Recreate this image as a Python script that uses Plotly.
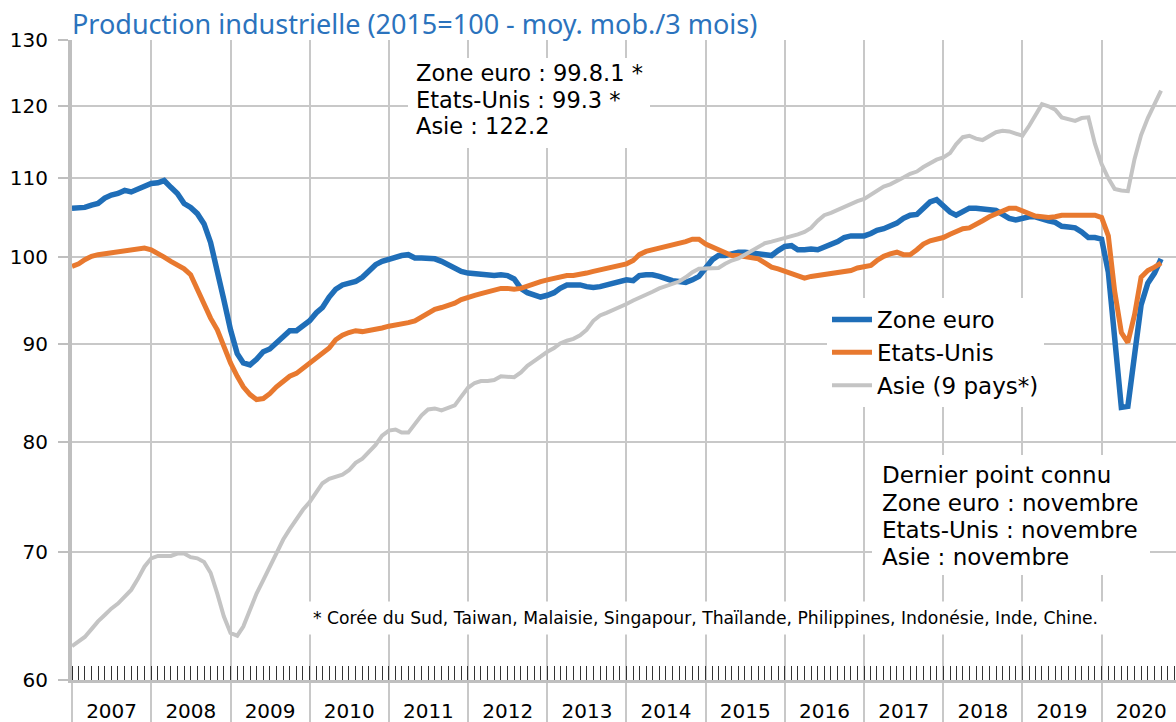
import math
import pandas as pd
import plotly.graph_objects as go

# ---- data (3-month moving average, 2015=100), monthly from Jan 2007 ----
start_month = "2007-01-01"

zone_euro = [
    106.1, 106.2, 106.2, 106.5, 106.7, 107.4, 107.8, 108.0, 108.4, 108.2, 108.6, 108.9,
    109.3, 109.4, 109.7, 108.8, 108.0, 106.7, 106.2, 105.4, 104.1, 101.8, 98.5, 95.0,
    91.6, 89.0, 88.0, 87.8, 88.4, 89.2, 89.5, 90.2, 90.8, 91.5, 91.5, 92.1,
    92.6, 93.5, 94.1, 95.3, 96.2, 96.7, 96.9, 97.1, 97.6, 98.4, 99.1, 99.5,
    99.8, 100.0, 100.2, 100.3, 99.9, 99.9, 99.9, 99.8, 99.5, 99.1, 98.7, 98.3,
    98.1, 98.0, 97.9, 97.8, 97.8, 97.9, 97.8, 97.4, 96.3, 95.8, 95.5, 95.3,
    95.5, 95.8, 96.3, 96.7, 96.7, 96.7, 96.5, 96.4, 96.5, 96.7, 97.0, 97.2,
    97.3, 97.2, 97.8, 97.9, 97.9, 97.7, 97.4, 97.2, 97.1, 97.0, 97.3, 97.7,
    98.7, 99.7, 100.2, 100.2, 100.4, 100.6, 100.6, 100.5, 100.3, 100.2, 100.2, 100.8,
    101.3, 101.4, 100.9, 100.9, 101.0, 100.9, 101.2, 101.5, 101.9, 102.4, 102.6, 102.6,
    102.6, 102.9, 103.3, 103.5, 103.8, 104.2, 104.8, 105.2, 105.3, 106.2, 106.9, 107.2,
    106.4, 105.6, 105.2, 105.6, 106.1, 106.1, 106.0, 105.9, 105.8, 105.3, 104.8, 104.6,
    104.8, 105.0, 105.0, 104.7, 104.5, 104.3, 103.8, 103.7, 103.6, 103.1, 102.4, 102.4,
    102.2, 98.2, 91.3, 83.4, 83.5, 88.4, 94.4, 96.9, 98.1, 99.8,
]

etats_unis = [
    98.9, 99.2, 99.7, 100.1, 100.3, 100.4, 100.5, 100.7, 100.8, 100.9, 101.0, 101.1,
    100.9, 100.5, 100.0, 99.5, 99.0, 98.6, 97.9, 96.1, 94.6, 92.9, 91.6, 89.8,
    88.0, 86.6, 85.5, 84.7, 84.2, 84.3, 84.8, 85.5, 86.1, 86.6, 86.9, 87.4,
    88.0, 88.5, 89.0, 89.6, 90.5, 91.0, 91.3, 91.5, 91.4, 91.5, 91.6, 91.8,
    92.0, 92.1, 92.3, 92.4, 92.6, 93.0, 93.5, 93.9, 94.1, 94.3, 94.6, 95.0,
    95.3, 95.5, 95.7, 95.9, 96.2, 96.3, 96.3, 96.2, 96.3, 96.6, 96.9, 97.1,
    97.3, 97.5, 97.7, 97.8, 97.8, 97.9, 98.1, 98.3, 98.5, 98.7, 98.8, 99.0,
    99.2, 99.6, 100.3, 100.7, 100.9, 101.1, 101.3, 101.4, 101.6, 101.9, 102.2, 102.2,
    101.6, 101.2, 100.9, 100.5, 100.2, 100.2, 100.1, 100.0, 99.8, 99.3, 98.8, 98.6,
    98.3, 98.1, 97.7, 97.5, 97.7, 97.8, 98.0, 98.1, 98.2, 98.2, 98.4, 98.7,
    98.8, 99.0, 99.6, 100.1, 100.4, 100.6, 100.3, 100.3, 100.9, 101.6, 102.0, 102.2,
    102.4, 102.8, 103.2, 103.5, 103.6, 104.0, 104.5, 105.0, 105.4, 105.8, 106.1, 106.1,
    105.7, 105.4, 105.1, 105.0, 104.9, 105.0, 105.2, 105.2, 105.2, 105.3, 105.3, 105.2,
    104.9, 102.6, 96.0, 91.3, 90.2, 93.3, 97.6, 98.4, 98.8, 99.3,
]

asie = [
    62.5, 62.9, 63.2, 63.8, 64.4, 64.9, 65.4, 65.8, 66.4, 66.9, 67.8, 68.8,
    69.5, 69.7, 69.7, 69.7, 69.9, 69.9, 69.6, 69.5, 69.2, 68.3, 66.6, 64.8,
    63.5, 63.3, 64.0, 65.3, 66.6, 67.7, 68.8, 70.0, 71.1, 72.0, 72.9, 73.7,
    74.4, 75.3, 76.1, 76.5, 76.7, 76.9, 77.3, 78.0, 78.4, 79.0, 79.7, 80.6,
    81.1, 81.2, 80.9, 80.9, 81.8, 82.6, 83.2, 83.3, 83.1, 83.3, 83.6, 84.5,
    85.4, 85.9, 86.1, 86.1, 86.2, 86.6, 86.5, 86.5, 87.0, 87.7, 88.2, 88.7,
    89.2, 89.6, 90.1, 90.4, 90.6, 91.0, 91.6, 92.6, 93.2, 93.5, 93.8, 94.2,
    94.5, 94.9, 95.2, 95.5, 95.9, 96.3, 96.6, 96.9, 97.1, 97.6, 98.2, 98.6,
    98.6, 98.6, 98.7, 99.2, 99.6, 99.85, 100.3, 100.7, 101.3, 101.7, 101.9, 102.1,
    102.3, 102.6, 102.8, 103.1, 103.6, 104.5, 105.2, 105.5, 105.9, 106.3, 106.7, 107.0,
    107.3, 107.8, 108.3, 108.9, 109.2, 109.6, 110.1, 110.6, 110.9, 111.5, 112.0, 112.5,
    112.8, 113.4, 114.6, 115.6, 115.8, 115.4, 115.2, 115.7, 116.3, 116.5, 116.4, 116.1,
    115.8, 117.2, 118.7, 120.3, 120.0, 119.5, 118.4, 118.2, 117.9, 118.3, 118.4, 114.7,
    111.9, 110.0, 108.6, 108.4, 108.3, 112.6, 115.9, 118.3, 120.3, 122.3,
]

series_names = ["Zone euro", "Etats-Unis", "Asie (9 pays*)"]
y_ticks = [60, 70, 80, 90, 100, 110, 120, 130]

title_text = "Production industrielle (2015=100 - moy. mob./3 mois)"
last_values_lines = ["Zone euro : 99.8.1 *", "Etats-Unis : 99.3 *", "Asie : 122.2"]
last_point_lines = ["Dernier point connu", "Zone euro : novembre",
                    "Etats-Unis : novembre", "Asie : novembre"]
footnote_text = ("* Corée du Sud, Taiwan, Malaisie, Singapour, Thaïlande, "
                 "Philippines, Indonésie, Inde, Chine.")

dates = pd.date_range(start_month, periods=len(zone_euro), freq="MS")

# ---- layout geometry (pixels) ----
W, H = 1176, 722
ML, MT, MB = 72, 40, 42
PLOT_W, PLOT_H = W - ML, H - MT - MB


def px_x(x):
    return (x - ML) / PLOT_W


def px_y(y):
    return (H - MB - y) / PLOT_H


FONT = "DejaVu Sans"
TITLE_FONT = "Noto Sans"
GRID = "#C8C8C8"
AXIS = "#BFBFBF"

fig = go.Figure()
fig.add_trace(go.Scatter(x=dates, y=zone_euro, name=series_names[0], mode="lines",
                         line=dict(color="#1F6EB8", width=5.5)))
fig.add_trace(go.Scatter(x=dates, y=etats_unis, name=series_names[1], mode="lines",
                         line=dict(color="#E8792F", width=5)))
fig.add_trace(go.Scatter(x=dates, y=asie, name=series_names[2], mode="lines",
                         line=dict(color="#C4C4C4", width=4)))

fig.update_layout(
    width=W, height=H,
    margin=dict(l=ML, r=0, t=MT, b=MB, pad=0),
    paper_bgcolor="white", plot_bgcolor="white",
    font=dict(family=FONT, color="black", size=20),
    title=dict(text=title_text, x=ML / W, xanchor="left", xref="container",
               y=1 - 25 / H, yanchor="middle", yref="container",
               font=dict(family=TITLE_FONT, size=27, color="#2B73BD")),
    legend=dict(x=px_x(827), y=px_y(298), xanchor="left", yanchor="top",
                bgcolor="white", font=dict(family=FONT, size=23, color="black"),
                tracegroupgap=0, itemwidth=40),
    showlegend=True,
)

fig.update_xaxes(
    type="date", automargin=False,
    range=["2007-01-01", "2020-12-09"],
    dtick="M12", tick0="2007-01-01", ticklabelmode="period", tickformat="%Y",
    showgrid=True, gridcolor=GRID, gridwidth=1.5,
    showline=True, linecolor=AXIS, linewidth=3,
    ticks="outside", ticklen=42, tickcolor=GRID, tickwidth=1.5,
    ticklabelstandoff=-31,
    tickfont=dict(family=FONT, size=20, color="black"),
    minor=dict(dtick="M1", tick0="2007-01-01", ticks="inside", ticklen=14,
               tickcolor="#333333", tickwidth=1, showgrid=False),
)

fig.update_yaxes(
    type="log", automargin=False,
    range=[math.log10(y_ticks[0]), math.log10(y_ticks[-1])],
    tickvals=y_ticks, ticktext=[str(v) for v in y_ticks],
    showgrid=True, gridcolor=GRID, gridwidth=1.5,
    showline=True, linecolor=AXIS, linewidth=4,
    ticks="outside", ticklen=10, tickcolor=AXIS, tickwidth=1.5,
    ticklabelstandoff=6,
    tickfont=dict(family=FONT, size=20, color="black"),
    zeroline=False,
)

# white boxes behind the text blocks
for (x0, y0, x1, y1) in [(408, 58, 650, 148), (872, 455, 1150, 575)]:
    fig.add_shape(type="rect", xref="paper", yref="paper",
                  x0=px_x(x0), x1=px_x(x1), y0=px_y(y1), y1=px_y(y0),
                  fillcolor="white", line=dict(width=0), layer="above")

for line, yc in zip(last_values_lines, [72.5, 99.5, 126.5]):
    fig.add_annotation(text=line, xref="paper", yref="paper",
                       x=px_x(415), y=px_y(yc), xanchor="left", yanchor="middle",
                       align="left", showarrow=False, borderpad=0,
                       font=dict(family=FONT, size=22.5, color="black"))

for line, yc in zip(last_point_lines, [475.0, 502.5, 529.5, 556.5]):
    fig.add_annotation(text=line, xref="paper", yref="paper",
                       x=px_x(881), y=px_y(yc), xanchor="left", yanchor="middle",
                       align="left", showarrow=False, borderpad=0,
                       font=dict(family=FONT, size=23, color="black"))

fig.add_annotation(text=footnote_text, xref="paper", yref="paper",
                   x=px_x(306), y=px_y(618), xanchor="left", yanchor="middle",
                   align="left", showarrow=False, bgcolor="white", borderpad=6,
                   font=dict(family=FONT, size=17.2, color="black"))

fig.write_html("out.html",
               config={"displayModeBar": False},
               post_script="document.body.style.margin='0px';")
